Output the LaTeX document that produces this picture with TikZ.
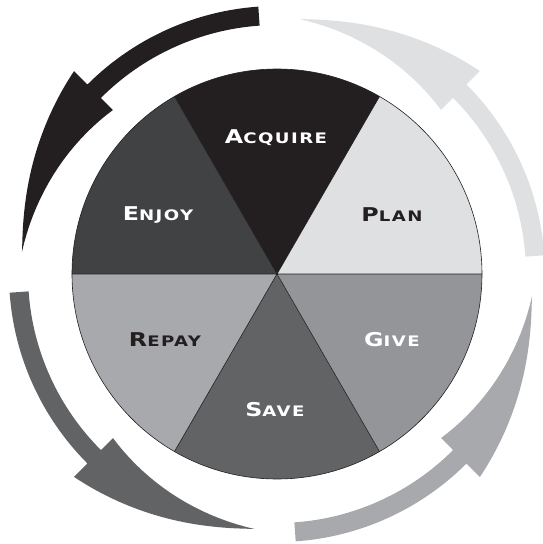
\documentclass[tikz,border=0pt]{standalone}
\usepackage{fontspec}
\usepackage{tikz}
\newfontfamily\capfont{DejaVu Sans}[FakeStretch=1.25,LetterSpace=10]
\newcommand{\capword}[2]{{\fontsize{19}{20}\selectfont #1}{\fontsize{14.5}{16}\selectfont #2}}

\definecolor{acquirecol}{HTML}{231F20}
\definecolor{plancol}{HTML}{DFE0E2}
\definecolor{givecol}{HTML}{939598}
\definecolor{savecol}{HTML}{626365}
\definecolor{repaycol}{HTML}{A7A9AC}
\definecolor{enjoycol}{HTML}{414244}

\begin{document}
\begin{tikzpicture}[x=1pt,y=1pt,
    wedge/.style={draw=acquirecol,line width=0.6pt,line join=round},
    label/.style={font=\capfont\bfseries,inner sep=0pt}]

  \useasboundingbox (-277,-270) rectangle (266,274);

  % pie slices
  \fill[plancol]    (0,0) -- (0:205)   arc[start angle=0,   end angle=60,  radius=205] -- cycle;
  \fill[acquirecol] (0,0) -- (60:205)  arc[start angle=60,  end angle=120, radius=205] -- cycle;
  \fill[enjoycol]   (0,0) -- (120:205) arc[start angle=120, end angle=180, radius=205] -- cycle;
  \fill[repaycol]   (0,0) -- (180:205) arc[start angle=180, end angle=240, radius=205] -- cycle;
  \fill[savecol]    (0,0) -- (240:205) arc[start angle=240, end angle=300, radius=205] -- cycle;
  \fill[givecol]    (0,0) -- (300:205) arc[start angle=300, end angle=360, radius=205] -- cycle;
  \draw[wedge] (0:205) -- (180:205) (60:205) -- (240:205) (120:205) -- (300:205);
  \draw[wedge] (0,0) circle[radius=205];

  \node[label,text=white]      (acquire) at (-1,136)   {\capword{A}{CQUIRE}};
  \node[label,text=acquirecol] (plan)    at (115,59)   {\capword{P}{LAN}};
  \node[label,text=white]      (give)    at (115,-66)  {\capword{G}{IVE}};
  \node[label,text=white]      (save)    at (-2,-136)  {\capword{S}{AVE}};
  \node[label,text=acquirecol] (repay)   at (-112,-66) {\capword{R}{EPAY}};
  \node[label,text=white]      (enjoy)   at (-119,59)  {\capword{E}{NJOY}};

  % outer arrows, all running anticlockwise
  \foreach \turn/\col in {0/plancol,90/acquirecol,180/savecol,270/repaycol}
    \fill[\col,rotate=\turn]
      (4:268) arc[start angle=4, end angle=45, radius=268] -- (45:287)
      -- plot[domain=0:0.995,samples=40] ({45+40*\x}:{256+31*(1-\x)^1.3})
      -- plot[domain=1:0,samples=20] ({45+40*\x}:{232+24*\x})
      -- (45:249) arc[start angle=45, end angle=4, radius=249] -- cycle;
\end{tikzpicture}
\end{document}
